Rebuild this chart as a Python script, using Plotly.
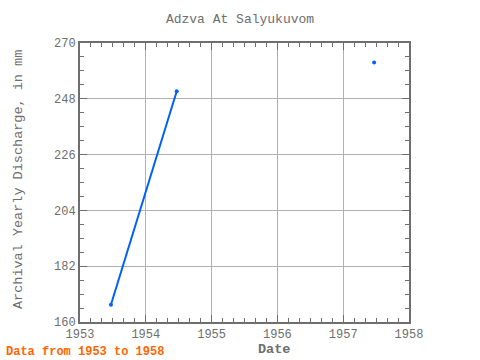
import plotly.graph_objects as go

years = [1953.47, 1954.47, 1955.47, 1956.47, 1957.47]
discharge = [166.8, 251.0, None, None, 262.3]
x_ticks = [1953, 1954, 1955, 1956, 1957, 1958]
y_ticks = [160, 182, 204, 226, 248, 270]

font_family = "Liberation Mono, DejaVu Sans Mono, monospace"
gray = "#6e6e6e"

fig = go.Figure()
fig.add_trace(go.Scatter(
    x=years, y=discharge, mode="lines+markers",
    line=dict(color="#0060ff", width=2),
    marker=dict(color="#0060ff", size=4),
    connectgaps=False, showlegend=False,
))

axis_common = dict(
    showline=True, linewidth=2, linecolor=gray, mirror="ticks",
    ticks="inside", ticklen=7, tickwidth=1, tickcolor=gray,
    showgrid=True, gridcolor="#b0b0b0", gridwidth=1,
    zeroline=False, automargin=False,
    tickfont=dict(family=font_family, size=12, color=gray),
)

fig.update_xaxes(
    range=[1953, 1958], tickvals=x_ticks, ticktext=[str(v) for v in x_ticks],
    minor=dict(dtick=1/6, tick0=1953, ticks="inside", ticklen=4, tickcolor=gray, showgrid=False),
    **axis_common,
)
fig.update_yaxes(
    range=[160, 270], tickvals=y_ticks, ticktext=[str(v) for v in y_ticks],
    minor=dict(dtick=5.5, tick0=160, ticks="inside", ticklen=4, tickcolor=gray, showgrid=False),
    **axis_common,
)

W, H = 329, 279
fig.update_layout(
    width=480, height=360,
    margin=dict(l=80, r=71, t=43, b=38),
    paper_bgcolor="white", plot_bgcolor="white",
    title=dict(text="Adzva At Salyukuvom", x=0.5, xanchor="center", y=1 - 18/360, yanchor="middle",
               font=dict(family=font_family, size=13, color=gray)),
    annotations=[
        dict(text="<b>Data from 1953 to 1958</b>", xref="paper", yref="paper",
             x=-76/W, y=-30/H, xanchor="left", yanchor="middle", showarrow=False,
             font=dict(family=font_family, size=12, color="#ff6600")),
        dict(text="<b>Date</b>", xref="paper", yref="paper",
             x=(274 - 80)/W, y=-27/H, xanchor="center", yanchor="middle", showarrow=False,
             font=dict(family=font_family, size=13.5, color=gray)),
        dict(text="Archival Yearly Discharge, in mm", xref="paper", yref="paper",
             x=-62/W, y=(322 - 180)/H, xanchor="center", yanchor="middle", showarrow=False,
             textangle=-90, font=dict(family=font_family, size=13.5, color=gray)),
    ],
)

fig.write_html("out.html")
